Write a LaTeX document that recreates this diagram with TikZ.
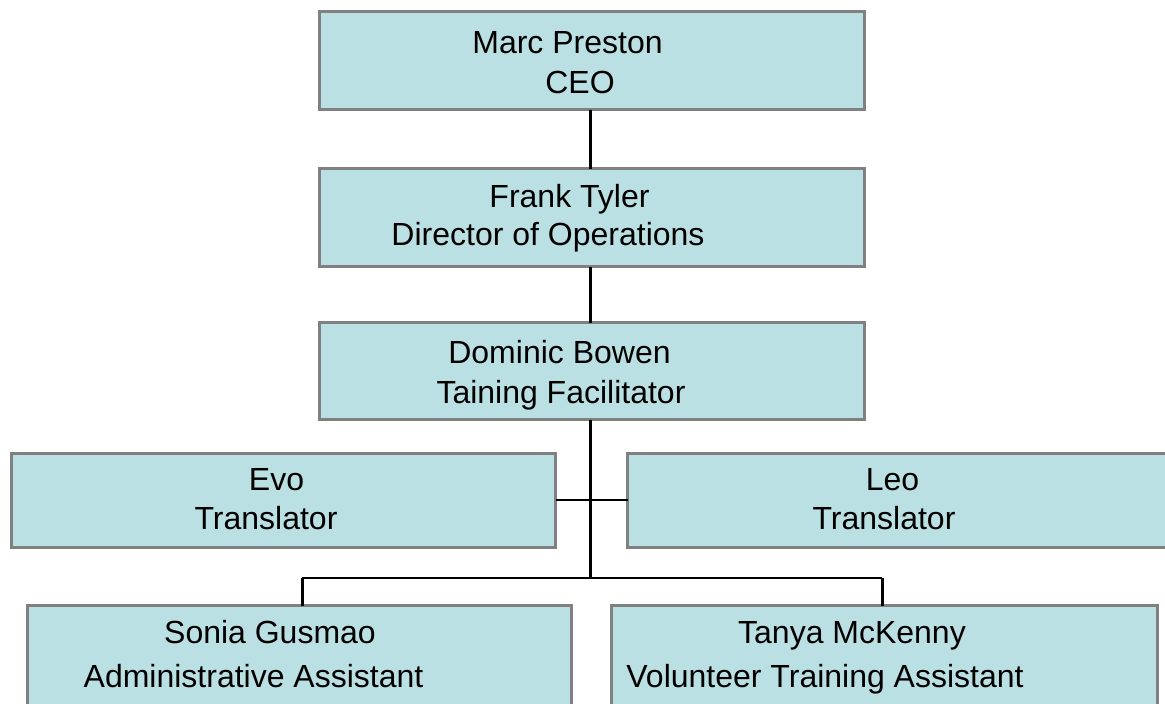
\documentclass[tikz,border=0pt]{standalone}
\usepackage{fontspec}
\setmainfont{Liberation Sans}
\definecolor{boxfill}{RGB}{187,224,227}
\definecolor{boxline}{RGB}{128,128,128}
\tikzset{
  orgbox/.style={draw=boxline, fill=boxfill, line width=3pt, rectangle, inner sep=0pt, outer sep=0pt},
  conn/.style={draw=black, line width=3pt},
  hconn/.style={draw=black, line width=2.5pt},
  lbl/.style={anchor=base, inner sep=0pt, font=\fontsize{32}{38}\selectfont, text=black}
}
\begin{document}
\begin{tikzpicture}[x=1pt,y=-1pt]
\useasboundingbox (0,0) rectangle (1165,704);
\clip (0,0) rectangle (1165,704);
\fill[white] (0,0) rectangle (1165,704);
% boxes
\node[orgbox, minimum width=545pt, minimum height=98pt] (ceo) at (592,60.5) {};
\node[orgbox, minimum width=545pt, minimum height=98pt] (frank) at (592,217.5) {};
\node[orgbox, minimum width=545pt, minimum height=97pt] (dominic) at (592,371) {};
\node[orgbox, minimum width=544pt, minimum height=94pt] (evo) at (283.5,500.5) {};
\node[orgbox, minimum width=541pt, minimum height=94pt] (leo) at (898,500.5) {};
\node[orgbox, minimum width=544pt, minimum height=103pt] (sonia) at (299.5,657) {};
\node[orgbox, minimum width=546pt, minimum height=103pt] (tanya) at (884.5,657) {};
% helper coordinates
\coordinate (trunk) at (590,0);
\coordinate (bar) at (0,578);
\coordinate (lx) at (302,0);
\coordinate (rx) at (882,0);
% connectors
\draw[conn] (ceo.south -| trunk) -- (frank.north -| trunk);
\draw[conn] (frank.south -| trunk) -- (dominic.north -| trunk);
\draw[conn] (dominic.south -| trunk) -- (bar -| trunk);
\draw[hconn] (evo.east |- 0,500) -- (leo.west |- 0,500);
\draw[hconn] (bar -| lx) -- (bar -| rx);
\draw[conn] (bar -| lx) -- (sonia.north -| lx);
\draw[conn] (bar -| rx) -- (tanya.north -| rx);
% texts
\node[lbl] (t1a) at (567.5,53) {Marc Preston};
\node[lbl] (t1b) at (580,93) {CEO};
\node[lbl] (t2a) at (569.5,207) {Frank Tyler};
\node[lbl] (t2b) at (548,245) {Director of Operations};
\node[lbl] (t3a) at (559.5,363) {Dominic Bowen};
\node[lbl] (t3b) at (561,403) {Taining Facilitator};
\node[lbl] (t4a) at (276.5,490) {Evo};
\node[lbl] (t4b) at (266,529) {Translator};
\node[lbl] (t5a) at (892.5,490) {Leo};
\node[lbl] (t5b) at (884,529) {Translator};
\node[lbl] (t6a) at (270,643) {Sonia Gusmao};
\node[lbl] (t6b) at (253.5,687) {Administrative Assistant};
\node[lbl] (t7a) at (852,643) {Tanya McKenny};
\node[lbl] (t7b) at (825,687) {Volunteer Training Assistant};
\end{tikzpicture}
\end{document}
